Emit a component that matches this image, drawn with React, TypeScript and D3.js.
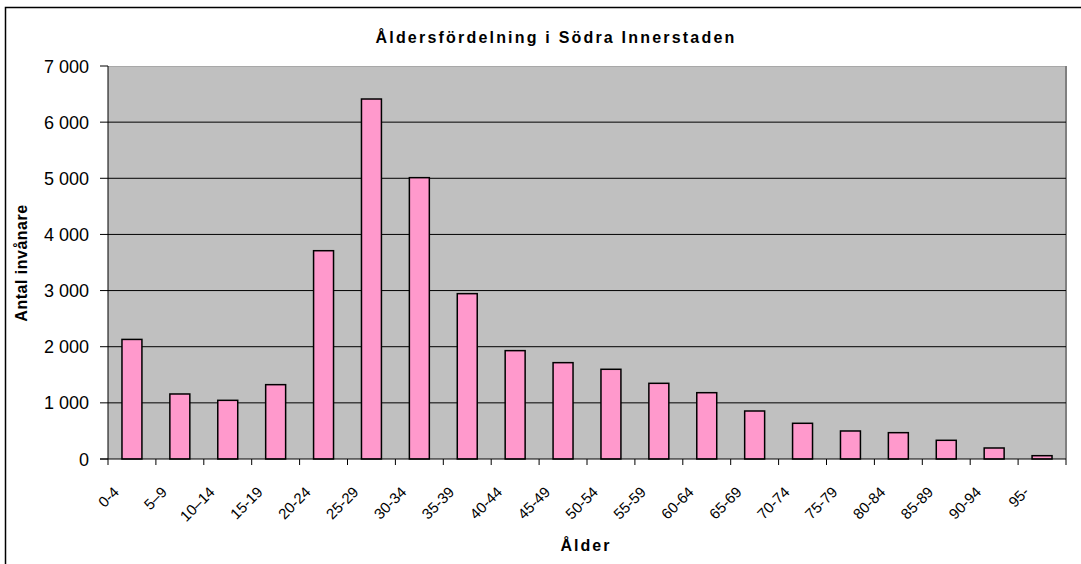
import React from "react";
import * as d3 from "d3";

const categories = ["0-4","5–9","10–14","15-19","20-24","25-29","30-34","35-39","40-44","45-49","50-54","55-59","60-64","65-69","70-74","75-79","80-84","85-89","90-94","95-"];
const values = [2130,1158,1045,1324,3710,6412,5011,2945,1930,1716,1598,1348,1181,855,636,499,469,333,196,59];
const yTicks = [0,1000,2000,3000,4000,5000,6000,7000];
const title = "Åldersfördelning i Södra Innerstaden";
const xTitle = "Ålder";
const yTitle = "Antal invånare";

const W = 1081, H = 564;
const left = 108, right = 1066, top = 66, bottom = 459;

const fmt = d3.formatLocale({ decimal: ",", thousands: " ", grouping: [3], currency: ["", ""] }).format(",d");

export default function App() {
  const x = d3.scaleBand<string>().domain(categories).range([left, right]).padding(0);
  const y = d3.scaleLinear().domain([0, 7000]).range([bottom, top]);
  const bw = x.bandwidth() / 2.4;
  const font = "'Liberation Sans', Arial, sans-serif";
  const boundaries = d3.range(categories.length + 1).map(i => left + i * x.step());
  return (
    <svg width={W} height={H} style={{ position: "absolute", left: 0, top: 0, display: "block" }} fontFamily={font}>
      <rect x={0} y={0} width={W} height={H} fill="#fff" />
      <rect x={5.5} y={7.5} width={W + 20} height={H + 20} fill="#fff" stroke="#000" strokeWidth={1.5} />
      <text x={556} y={43} textAnchor="middle" fontSize={16} fontWeight="bold" letterSpacing={2.2}>{title}</text>
      <rect x={left} y={top} width={right - left} height={bottom - top} fill="#C0C0C0" />
      <line x1={left} x2={right} y1={top + 0.5} y2={top + 0.5} stroke="#a8a8a8" strokeWidth={1} />
      <line x1={right} x2={right} y1={top} y2={bottom} stroke="#808080" strokeWidth={2} />
      {yTicks.filter(t => t > 0 && t < 7000).map(t => (
        <line key={"g" + t} x1={left} x2={right} y1={y(t)} y2={y(t)} stroke="#000" strokeWidth={1} />
      ))}
      {categories.map((c, i) => (
        <rect key={c} x={x(c)! + x.bandwidth() / 2 - bw / 2} y={y(values[i])} width={bw} height={bottom - y(values[i])}
          fill="#FF99CC" stroke="#000" strokeWidth={1.5} />
      ))}
      <line x1={left} x2={left} y1={top} y2={bottom} stroke="#000" strokeWidth={1} />
      <line x1={left - 8} x2={right} y1={bottom} y2={bottom} stroke="#000" strokeWidth={1} />
      {yTicks.map(t => (
        <g key={"t" + t}>
          <line x1={left - 8} x2={left} y1={y(t)} y2={y(t)} stroke="#000" />
          <text x={89} y={y(t) + 6.5} textAnchor="end" fontSize={18}>{fmt(t)}</text>
        </g>
      ))}
      {boundaries.map((b, i) => (
        <line key={"b" + i} x1={b} x2={b} y1={bottom} y2={bottom + 6} stroke="#000" />
      ))}
      {categories.map(c => {
        const cx = x(c)! + x.bandwidth() / 2;
        return (
          <text key={"l" + c} transform={`translate(${cx - 12},${493}) rotate(-45)`} textAnchor="end" fontSize={15}>{c}</text>
        );
      })}
      <text x={586} y={550.5} textAnchor="middle" fontSize={16} fontWeight="bold" letterSpacing={2}>{xTitle}</text>
      <text transform={`translate(27,263) rotate(-90)`} textAnchor="middle" fontSize={16} fontWeight="bold" letterSpacing={0.5}>{yTitle}</text>
    </svg>
  );
}
